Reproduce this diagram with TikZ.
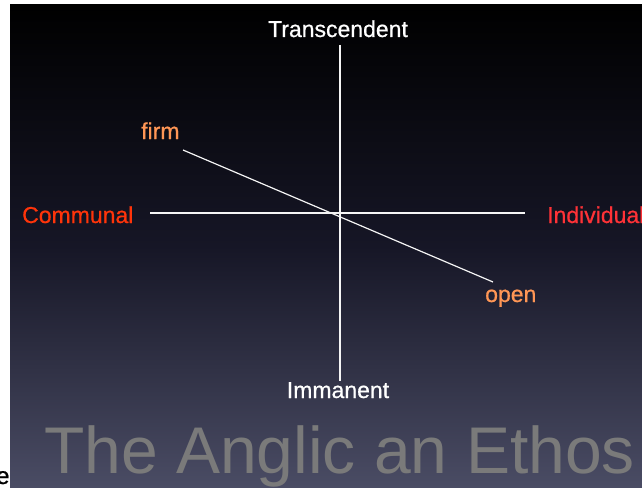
\documentclass[tikz,border=0pt]{standalone}
\usepackage{fontspec}
\setmainfont{Liberation Sans}
\newfontfamily\lblfont[FakeBold=0.7]{Liberation Sans}
\definecolor{bgtop}{RGB}{0,0,0}
\definecolor{bgmid}{RGB}{22,22,38}
\definecolor{bgbot}{RGB}{74,76,100}
\definecolor{commred}{RGB}{255,52,10}
\definecolor{indred}{RGB}{255,50,55}
\definecolor{orangelbl}{RGB}{255,150,85}
\definecolor{titlegray}{RGB}{122,122,122}
\tikzset{
  axis/.style={draw=white!92!gray, line width=1.2pt},
  lbl/.style={anchor=base west, inner sep=0pt, font=\lblfont\fontsize{23}{26}\selectfont},
}
\begin{document}
\begin{tikzpicture}[x=1pt,y=-1pt]
\useasboundingbox (0,0) rectangle (642,487);
\fill[white] (0,0) rectangle (642,487);
\shade[top color=bgtop, bottom color=bgbot, middle color=bgmid] (10,5) rectangle (642,487);
% axes endpoints
\coordinate (vt) at (340,45);
\coordinate (vb) at (340,381);
\coordinate (hl) at (150,213);
\coordinate (hr) at (525,213);
\coordinate (df) at (183,150);
\coordinate (do) at (493,282);
\draw[axis] (vt) -- (vb);
\draw[axis] (hl) -- (hr);
\draw[axis] (df) -- (do);
% labels
\node[lbl, anchor=base, text=white] (trans) at (338,37) {Transcendent};
\node[lbl, text=orangelbl] (firm) at (141,139) {firm};
\node[lbl, text=commred] (comm) at (22,223) {Communal};
\node[lbl, text=indred] (indiv) at (547,223) {Individual};
\node[lbl, text=orangelbl] (open) at (485,302) {open};
\node[lbl, anchor=base, text=white] (imm) at (338,398) {Immanent};
\node[anchor=base west, inner sep=0pt, text=titlegray, font=\fontsize{66}{70}\selectfont] (title) at (44,473) {The Anglic an Ethos};
\begin{scope}
\clip (0,0) rectangle (10,487);
\node[anchor=base west, inner sep=0pt, font=\lblfont\fontsize{24}{26}\selectfont] (e) at (-4,484) {e};
\end{scope}
\end{tikzpicture}
\end{document}
